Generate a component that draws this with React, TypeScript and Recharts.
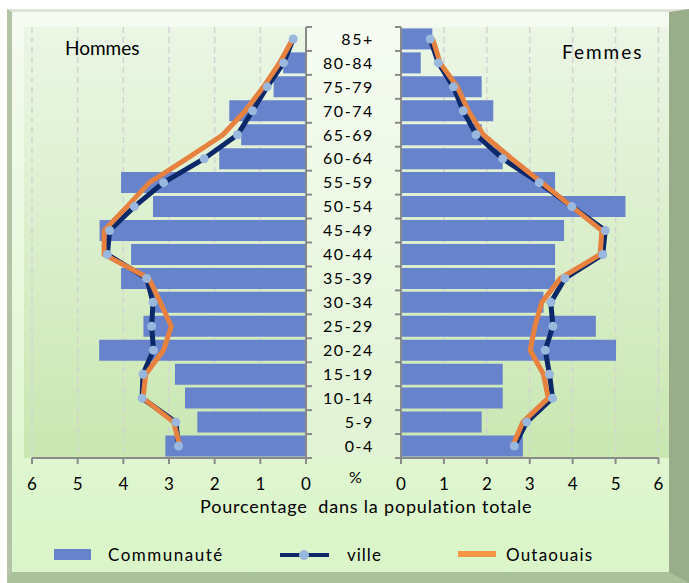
import React from "react";
import { ComposedChart, Bar, Line, XAxis, YAxis, CartesianGrid } from "recharts";

// age groups, top to bottom
const ages = ["85+", "80-84", "75-79", "70-74", "65-69", "60-64", "55-59", "50-54", "45-49", "40-44", "35-39", "30-34", "25-29", "20-24", "15-19", "10-14", "5-9", "0-4"];

const hommesCommunaute = [0, 0.5, 0.71, 1.68, 1.42, 1.9, 4.05, 3.35, 4.52, 3.83, 4.05, 3.38, 3.56, 4.53, 2.87, 2.65, 2.38, 3.08];
const hommesVille = [0.28, 0.49, 0.85, 1.17, 1.5, 2.23, 3.12, 3.76, 4.3, 4.35, 3.49, 3.35, 3.38, 3.34, 3.57, 3.59, 2.85, 2.79];
const hommesOutaouais = [0.29, 0.58, 0.93, 1.33, 1.82, 2.61, 3.43, 3.92, 4.42, 4.42, 3.44, 3.19, 2.95, 3.12, 3.51, 3.57, 2.9, 2.76];

const femmesCommunaute = [0.73, 0.46, 1.88, 2.15, 1.88, 2.37, 3.59, 5.23, 3.8, 3.59, 3.59, 3.32, 4.54, 5.01, 2.37, 2.37, 1.88, 2.84];
const femmesVille = [0.68, 0.87, 1.22, 1.45, 1.75, 2.37, 3.22, 3.98, 4.76, 4.7, 3.82, 3.49, 3.54, 3.36, 3.46, 3.53, 2.93, 2.64];
const femmesOutaouais = [0.74, 0.91, 1.31, 1.57, 1.92, 2.58, 3.28, 3.98, 4.68, 4.64, 3.71, 3.28, 3.12, 3.01, 3.32, 3.43, 2.84, 2.6];

const xTicks = [0, 1, 2, 3, 4, 5, 6];

const leftData = ages.map((age, i) => ({ age, communaute: hommesCommunaute[i], ville: hommesVille[i], outaouais: hommesOutaouais[i] }));
const rightData = ages.map((age, i) => ({ age, communaute: femmesCommunaute[i], ville: femmesVille[i], outaouais: femmesOutaouais[i] }));

const FONT = "Lato, 'Open Sans', sans-serif";
const AXIS = "#8a8a8a";
const BAR = "#6783cc";
const NAVY = "#0b2868";
const DOT = "#9ab8dd";
const ORANGE = "#e6813f";

const PLOT_TOP = 27;
const PLOT_H = 431;
const ROW = PLOT_H / ages.length;
const TICK = 6;
const LABEL_GAP = 21;

const axisStyle = { stroke: AXIS, strokeWidth: 2 };

// Excel-style: tick marks between rows, not at their centres
function RowTickRight(props: any) {
  const { x, y, index } = props;
  const last = index === ages.length - 1;
  return (
    <g>
      <line x1={x - TICK} x2={x} y1={y - ROW / 2} y2={y - ROW / 2} stroke={AXIS} strokeWidth={2} />
      {last && <line x1={x - TICK} x2={x} y1={y + ROW / 2} y2={y + ROW / 2} stroke={AXIS} strokeWidth={2} />}
    </g>
  );
}

function RowTickLeft(props: any) {
  const { x, y, index, payload } = props;
  const last = index === ages.length - 1;
  const ax = x + LABEL_GAP;
  return (
    <g>
      <line x1={ax} x2={ax + TICK} y1={y - ROW / 2} y2={y - ROW / 2} stroke={AXIS} strokeWidth={2} />
      {last && <line x1={ax} x2={ax + TICK} y1={y + ROW / 2} y2={y + ROW / 2} stroke={AXIS} strokeWidth={2} />}
      <text x={x} y={y} dy="0.36em" textAnchor="end" fontSize={16} fontFamily={FONT} fill="#000" style={{ letterSpacing: 1.6 }}>
        {payload.value}
      </text>
    </g>
  );
}

function series() {
  return [
    <Bar key="b" dataKey="communaute" fill={BAR} isAnimationActive={false} />,
    <Line key="v" dataKey="ville" stroke={NAVY} strokeWidth={5} dot={{ r: 4.5, fill: DOT, stroke: DOT, strokeWidth: 0 }} activeDot={false} isAnimationActive={false} />,
    <Line key="o" dataKey="outaouais" stroke={ORANGE} strokeWidth={5} dot={false} activeDot={false} isAnimationActive={false} />,
  ];
}

export default function App() {
  return (
    <div style={{ position: "absolute", left: 0, top: 0, width: 689, height: 583, fontFamily: FONT, background: "#fff", overflow: "hidden" }}>
      {/* frame */}
      <div
        style={{
          position: "absolute", left: 7, top: 9, width: 682, height: 574, boxSizing: "border-box",
          borderLeft: "5px solid #b3c3a5", borderTop: "3px solid #dfe4d8", borderRight: "20px solid #9aad8b", borderBottom: "11px solid #abc19a",
          background: "linear-gradient(#f5fbf1, #daf5c8)",
        }}
      />
      {/* plot panels */}
      <div style={{ position: "absolute", left: 24, top: PLOT_TOP, width: 282, height: PLOT_H, background: "linear-gradient(#ebf6e5, #c9e7b1)" }} />
      <div style={{ position: "absolute", left: 306, top: PLOT_TOP, width: 95, height: PLOT_H, background: "linear-gradient(#f6fcf2, #e0f3d3)" }} />
      <div style={{ position: "absolute", left: 401, top: PLOT_TOP, width: 268, height: PLOT_H, background: "linear-gradient(#ebf6e5, #c9e7b1)" }} />

      <div style={{ position: "absolute", left: 0, top: 0 }}>
        <ComposedChart layout="vertical" width={320} height={500} data={leftData} margin={{ top: PLOT_TOP, right: 0, left: 32, bottom: 2 }} barCategoryGap="6%">
          <CartesianGrid horizontal={false} stroke="#d3d3d3" strokeDasharray="6 4" strokeWidth={1.5} />
          <XAxis type="number" domain={[0, 6]} ticks={xTicks} reversed interval={0} height={40} tickSize={6} tickMargin={14} axisLine={axisStyle} tickLine={axisStyle} tick={{ fill: "#000", fontSize: 17, fontFamily: FONT }} />
          <YAxis type="category" dataKey="age" orientation="right" width={14} interval={0} tickSize={TICK} tickMargin={0} axisLine={axisStyle} tickLine={false} tick={<RowTickRight />} />
          {series()}
        </ComposedChart>
      </div>

      <div style={{ position: "absolute", left: 290, top: 0 }}>
        <ComposedChart layout="vertical" width={380} height={500} data={rightData} margin={{ top: PLOT_TOP, right: 11.5, left: 0, bottom: 2 }} barCategoryGap="6%">
          <CartesianGrid horizontal={false} stroke="#d3d3d3" strokeDasharray="6 4" strokeWidth={1.5} />
          <XAxis type="number" domain={[0, 6]} ticks={xTicks} interval={0} height={40} tickSize={6} tickMargin={14} axisLine={axisStyle} tickLine={axisStyle} tick={{ fill: "#000", fontSize: 17, fontFamily: FONT }} />
          <YAxis type="category" dataKey="age" interval={0} width={111} tickSize={TICK} tickMargin={LABEL_GAP} axisLine={axisStyle} tickLine={false} tick={<RowTickLeft />} />
          {series()}
        </ComposedChart>
      </div>

      {/* texts */}
      <div style={{ position: "absolute", left: 65, top: 36, fontSize: 19, color: "#000" }}>Hommes</div>
      <div style={{ position: "absolute", left: 562, top: 40, fontSize: 19, letterSpacing: 2, color: "#000" }}>Femmes</div>
      <div style={{ position: "absolute", left: 349, top: 467, fontSize: 16, color: "#000" }}>%</div>
      <div style={{ position: "absolute", left: 200, top: 495, fontSize: 18, letterSpacing: 0.8, color: "#000", whiteSpace: "pre" }}>{"Pourcentage  dans la population totale"}</div>

      {/* legend */}
      <div style={{ position: "absolute", left: 54, top: 549, width: 37, height: 11, background: BAR }} />
      <div style={{ position: "absolute", left: 108, top: 544, fontSize: 17, letterSpacing: 1.5, color: "#000" }}>Communauté</div>
      <svg style={{ position: "absolute", left: 280, top: 548 }} width={50} height={14}>
        <line x1={0} y1={7} x2={49} y2={7} stroke={NAVY} strokeWidth={4} />
        <circle cx={24} cy={7} r={5} fill={DOT} />
      </svg>
      <div style={{ position: "absolute", left: 347, top: 544, fontSize: 17, letterSpacing: 1, color: "#000" }}>ville</div>
      <div style={{ position: "absolute", left: 458, top: 551, width: 38, height: 6, background: "#f79646" }} />
      <div style={{ position: "absolute", left: 506, top: 544, fontSize: 17, letterSpacing: 1.2, color: "#000" }}>Outaouais</div>
    </div>
  );
}
